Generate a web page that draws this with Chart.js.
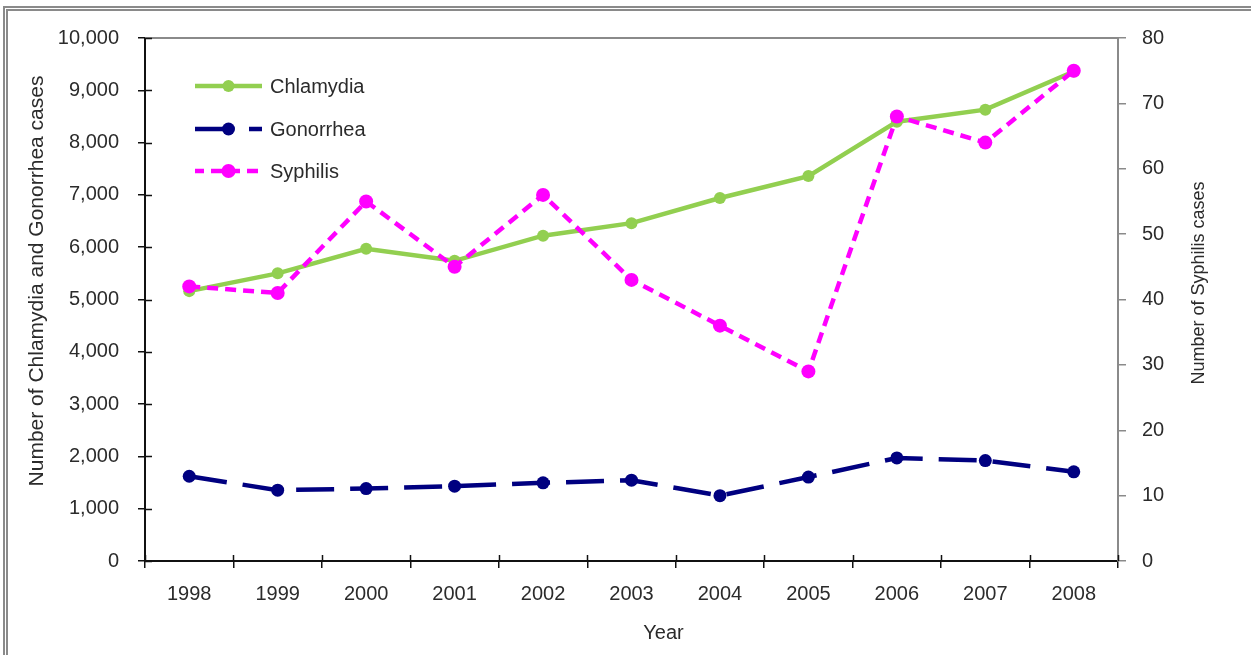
<!DOCTYPE html>
<html>
<head>
<meta charset="utf-8">
<title>STI cases 1998-2008</title>
<script src="https://cdn.jsdelivr.net/npm/chart.js@4.4.0/dist/chart.umd.min.js"></script>
<style>
    html, body { margin: 0; padding: 0; background: #fff; }
    #wrap { position: relative; width: 1251px; height: 655px; overflow: hidden; }
    #wrap canvas { position: absolute; left: 0; top: 0; }
    #frame {
        position: absolute; left: 3px; top: 6px; right: -20px; bottom: -20px;
        border-left: 5px double #8a8a8a; border-top: 5px double #8a8a8a;
        pointer-events: none;
    }
</style>
</head>
<body>
<div id="wrap">
    <canvas id="stiChart" width="1251" height="655"></canvas>
    <div id="frame"></div>
</div>
<script>
// data
const years = ['1998', '1999', '2000', '2001', '2002', '2003', '2004', '2005', '2006', '2007', '2008'];
const chlamydia = [5160, 5500, 5970, 5740, 6220, 6460, 6940, 7360, 8400, 8630, 9360];
const gonorrhea = [1620, 1355, 1385, 1430, 1495, 1545, 1250, 1605, 1970, 1920, 1705];
const syphilis = [42, 41, 55, 45, 56, 43, 36, 29, 68, 64, 75];

const leftTicks = { min: 0, max: 10000, step: 1000 };
const rightTicks = { min: 0, max: 80, step: 10 };

const FONT = '"Liberation Sans", Arial, sans-serif';
const TEXT = '#2b2b2b';

// inner tick halves, top frame line, axis titles
const decor = {
    id: 'decor',
    beforeDatasetsDraw(chart) {
        const { ctx, chartArea: a, scales } = chart;
        ctx.save();
        ctx.strokeStyle = '#8a8a8a';
        ctx.lineWidth = 2;
        ctx.beginPath();
        ctx.moveTo(a.left, a.top);
        ctx.lineTo(a.right, a.top);
        ctx.stroke();

        ctx.strokeStyle = '#111';
        ctx.lineWidth = 1.5;
        ctx.beginPath();
        scales.y.ticks.forEach(t => {
            const py = Math.round(scales.y.getPixelForValue(t.value)) + 0.5;
            ctx.moveTo(a.left, py);
            ctx.lineTo(a.left + 7, py);
        });
        const half = (scales.x.getPixelForValue(1) - scales.x.getPixelForValue(0)) / 2;
        for (let i = 0; i <= years.length; i++) {
            const px = Math.round(scales.x.getPixelForValue(i) - half) + 0.5;
            ctx.moveTo(px, a.bottom);
            ctx.lineTo(px, a.bottom - 6);
        }
        ctx.stroke();
        ctx.restore();
    },
    afterDraw(chart) {
        const { ctx, chartArea: a } = chart;
        ctx.save();
        ctx.fillStyle = TEXT;
        ctx.textAlign = 'center';
        ctx.textBaseline = 'middle';

        ctx.font = '20px ' + FONT;
        ctx.fillText('Year', (a.left + a.right) / 2 + 32, 633);

        ctx.save();
        ctx.translate(37, 281);
        ctx.rotate(-Math.PI / 2);
        ctx.font = '21px ' + FONT;
        ctx.fillText('Number of Chlamydia and Gonorrhea cases', 0, 0);
        ctx.restore();

        ctx.save();
        ctx.translate(1199, 283);
        ctx.rotate(-Math.PI / 2);
        ctx.font = '18px ' + FONT;
        ctx.fillText('Number of Syphilis cases', 0, 0);
        ctx.restore();

        ctx.restore();
    }
};

// legend drawn inside the plot, top left
const insideLegend = {
    id: 'insideLegend',
    afterDatasetsDraw(chart) {
        const { ctx, chartArea: a } = chart;
        const x0 = a.left + 50, x1 = a.left + 117;
        const rows = [86, 129, 171];
        ctx.save();
        chart.data.datasets.forEach((ds, i) => {
            const y = rows[i];
            ctx.strokeStyle = ds.borderColor;
            ctx.lineWidth = ds.borderWidth;
            ctx.setLineDash(ds.borderDash || []);
            ctx.lineDashOffset = ds.legendDashOffset || 0;
            ctx.beginPath();
            ctx.moveTo(x0, y);
            ctx.lineTo(x1, y);
            ctx.stroke();
            ctx.setLineDash([]);
            ctx.fillStyle = ds.pointBackgroundColor;
            ctx.beginPath();
            ctx.arc((x0 + x1) / 2, y, ds.pointRadius, 0, Math.PI * 2);
            ctx.fill();
            ctx.fillStyle = TEXT;
            ctx.font = '20px ' + FONT;
            ctx.textAlign = 'left';
            ctx.textBaseline = 'middle';
            ctx.fillText(ds.label, x1 + 8, y + 1);
        });
        ctx.restore();
    }
};

document.addEventListener('DOMContentLoaded', () => {
    const ctx = document.getElementById('stiChart');
    new Chart(ctx, {
        type: 'line',
        data: {
            labels: years,
            datasets: [{
                label: 'Chlamydia',
                data: chlamydia,
                yAxisID: 'y',
                borderColor: '#92CF50',
                pointBackgroundColor: '#92CF50',
                pointBorderColor: '#92CF50',
                borderWidth: 4.5,
                pointRadius: 6,
                pointBorderWidth: 0,
                tension: 0,
                order: 2
            }, {
                label: 'Gonorrhea',
                data: gonorrhea,
                yAxisID: 'y',
                borderColor: '#000080',
                pointBackgroundColor: '#000080',
                pointBorderColor: '#000080',
                borderWidth: 4.5,
                borderDash: [38, 16],
                legendDashOffset: 0,
                pointRadius: 6.5,
                pointBorderWidth: 0,
                tension: 0,
                order: 3
            }, {
                label: 'Syphilis',
                data: syphilis,
                yAxisID: 'y1',
                borderColor: '#FF00FF',
                pointBackgroundColor: '#FF00FF',
                pointBorderColor: '#FF00FF',
                borderWidth: 4.5,
                borderDash: [11, 7],
                legendDashOffset: 2,
                pointRadius: 7,
                pointBorderWidth: 0,
                tension: 0,
                order: 1
            }]
        },
        options: {
            responsive: false,
            animation: false,
            layout: { padding: { top: 38, left: 0, right: 0, bottom: 0 } },
            plugins: {
                legend: { display: false },
                tooltip: { enabled: false }
            },
            scales: {
                x: {
                    offset: true,
                    grid: { offset: true, drawOnChartArea: false, tickLength: 7, color: '#111', lineWidth: 1.5 },
                    border: { color: '#111', width: 2 },
                    ticks: { color: TEXT, padding: 14, font: { family: FONT, size: 20 } },
                    afterFit: s => { s.height = 94; }
                },
                y: {
                    position: 'left',
                    min: leftTicks.min,
                    max: leftTicks.max,
                    grid: { drawOnChartArea: false, tickLength: 7, color: '#111', lineWidth: 1.5 },
                    border: { color: '#111', width: 2 },
                    ticks: {
                        stepSize: leftTicks.step,
                        color: TEXT,
                        padding: 19,
                        font: { family: FONT, size: 20 },
                        callback: v => v.toLocaleString('en-US')
                    },
                    afterFit: s => { s.width = 145; }
                },
                y1: {
                    position: 'right',
                    min: rightTicks.min,
                    max: rightTicks.max,
                    grid: { drawOnChartArea: false, tickLength: 8, color: '#8a8a8a', lineWidth: 1.5 },
                    border: { color: '#8a8a8a', width: 2 },
                    ticks: {
                        stepSize: rightTicks.step,
                        color: TEXT,
                        padding: 16,
                        font: { family: FONT, size: 20 }
                    },
                    afterFit: s => { s.width = 133; }
                }
            }
        },
        plugins: [decor, insideLegend]
    });
});
</script>
</body>
</html>
